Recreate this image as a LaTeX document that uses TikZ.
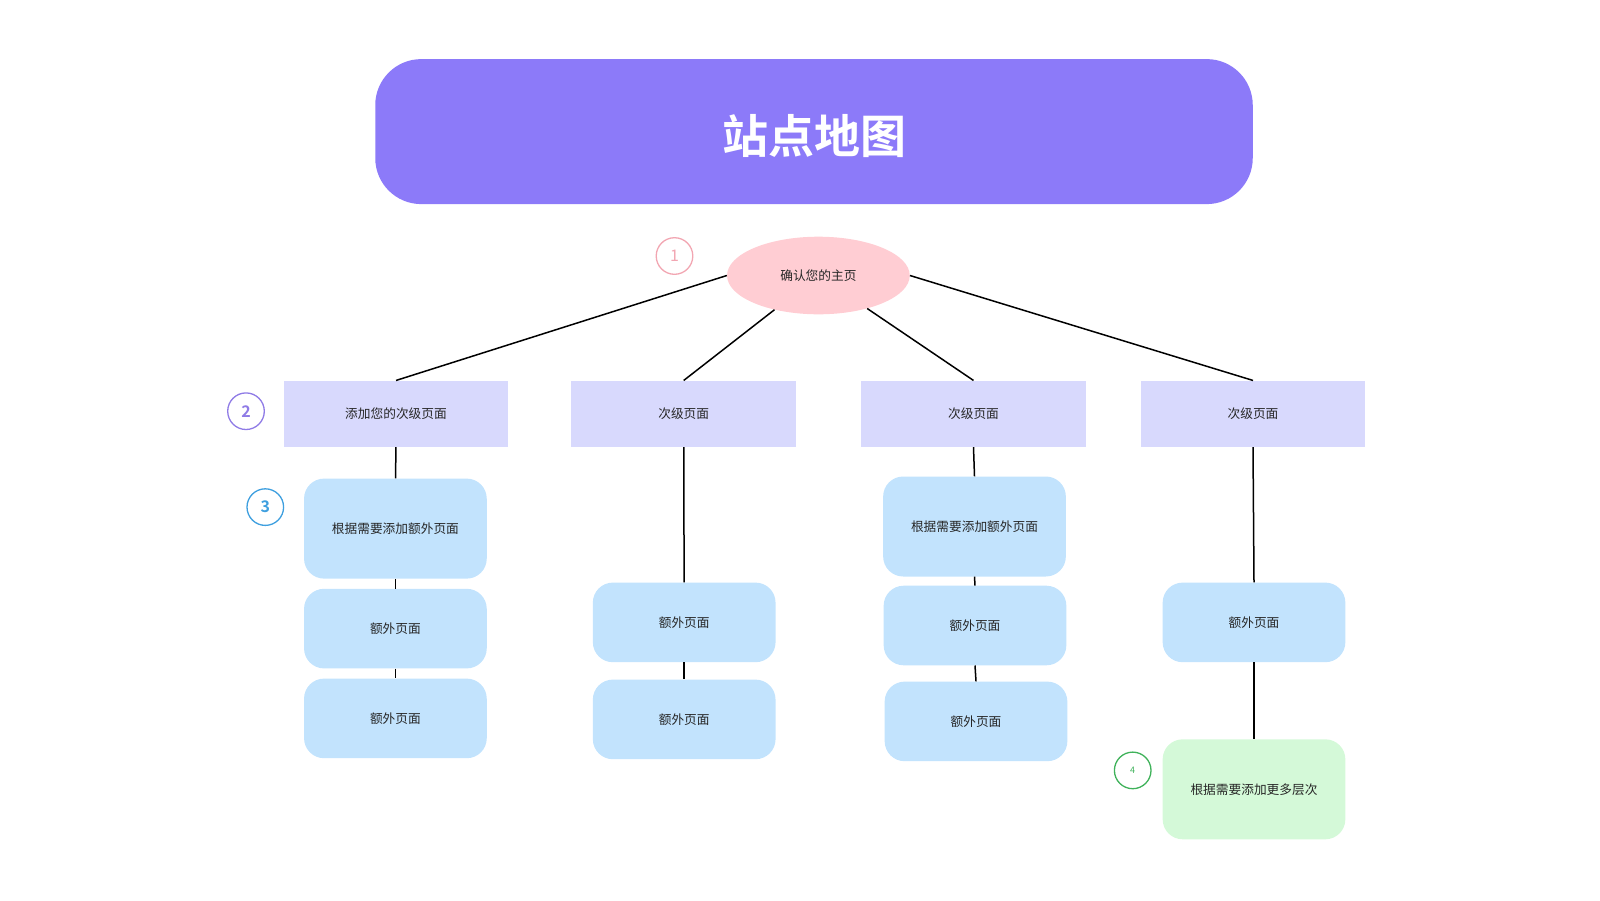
\documentclass[tikz,border=0pt]{standalone}
\usepackage{fontspec}
\usetikzlibrary{shapes.geometric}
\newfontfamily\cjk{Noto Sans CJK SC}[BoldFont={Noto Sans CJK SC Bold}]
\definecolor{titlefill}{HTML}{8C7AF9}
\definecolor{homefill}{HTML}{FFCDD3}
\definecolor{subfill}{HTML}{D8D9FD}
\definecolor{extfill}{HTML}{C2E3FD}
\definecolor{morefill}{HTML}{D4F9D8}
\definecolor{txt}{HTML}{262626}
\definecolor{pinkline}{HTML}{F2A6B2}
\definecolor{purpleline}{HTML}{8F7BE6}
\definecolor{blueline}{HTML}{3E9FDF}
\definecolor{greenline}{HTML}{3FB25A}
\tikzset{
  every node/.style={font=\cjk\fontsize{12.7}{15}\selectfont, text=txt, inner sep=0pt},
  sub/.style={fill=subfill, minimum width=224.5pt, minimum height=66.3pt},
  extra/.style={fill=extfill, rounded corners=20pt, minimum width=182.7pt, minimum height=79.6pt},
  tall/.style={extra, minimum height=100pt},
  badge/.style={circle, draw, line width=1.3pt, fill=white, minimum size=36.6pt,
    font=\cjk\fontsize{16}{18}\selectfont}
}
\begin{document}
\begin{tikzpicture}[x=1pt,y=-1pt]
  \useasboundingbox (0,0) rectangle (1600,900);
  % title
  \node (title) at (814,131.6) [fill=titlefill, rounded corners=46pt,
    minimum width=877.5pt, minimum height=145pt, text=white,
    text height=44pt, text depth=0pt,
    font=\cjk\bfseries\fontsize{46}{50}\selectfont] {站点地图};
  % home page
  \node (home) at (818.4,275.5) [ellipse, fill=homefill,
    minimum width=182.7pt, minimum height=77.6pt] {确认您的主页};
  \node (n1) at (674.5,256) [badge, draw=pinkline, text=pinkline] {1};
  % secondary pages
  \node (s1) at (396,413.8) [sub] {添加您的次级页面};
  \node (s2) at (683.7,413.8) [sub] {次级页面};
  \node (s3) at (973.5,413.8) [sub] {次级页面};
  \node (s4) at (1253,413.8) [sub] {次级页面};
  \node (n2) at (246,411.2) [badge, draw=purpleline, text=purpleline, font=\cjk\bfseries\fontsize{16}{18}\selectfont] {2};
  % extra pages
  \node (a1) at (395.4,528.6) [tall] {根据需要添加额外页面};
  \node (b1) at (395.4,628.6) [extra] {额外页面};
  \node (c1) at (395.4,718.4) [extra] {额外页面};
  \node (n3) at (265.3,507.1) [badge, draw=blueline, text=blueline, font=\cjk\bfseries\fontsize{16}{18}\selectfont] {3};
  \node (a2) at (684.2,622.4) [extra] {额外页面};
  \node (b2) at (684.2,719.4) [extra] {额外页面};
  \node (a3) at (974.5,526.5) [tall] {根据需要添加额外页面};
  \node (b3) at (975,625.5) [extra] {额外页面};
  \node (c3) at (976,721.4) [extra] {额外页面};
  \node (a4) at (1254,622.4) [extra] {额外页面};
  \node (more) at (1254,789.3) [tall, fill=morefill] {根据需要添加更多层次};
  \node (n4) at (1132.7,770.4) [badge, draw=greenline, text=greenline, font=\cjk\fontsize{9}{10}\selectfont] {4};
  \begin{scope}[line width=1.5pt]
    \draw (home.west) to (s1.north);
    \draw (home) to (s2.north);
    \draw (home) to (s3.north);
    \draw (home.east) to (s4.north);
    \draw (s1) to (a1);
    \draw (a1) to (b1);
    \draw (b1) to (c1);
    \draw (s2) to (a2);
    \draw (a2) to (b2);
    \draw (s3.south) to (a3.north);
    \draw (a3.south) to (b3.north);
    \draw (b3.south) to (c3.north);
    \draw (s4.south) to (a4.north);
    \draw (a4) to (more);
  \end{scope}
\end{tikzpicture}
\end{document}
